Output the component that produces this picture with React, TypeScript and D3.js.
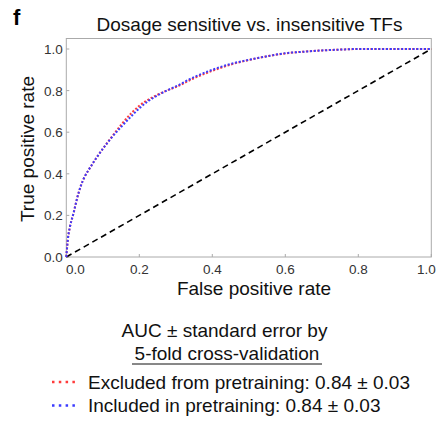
import React from "react";
import * as d3 from "d3";

const fpr = [0, 0.005, 0.01, 0.02, 0.03, 0.04, 0.05, 0.06, 0.08, 0.1, 0.12, 0.15, 0.18, 0.2, 0.225, 0.25, 0.275, 0.3, 0.35, 0.4, 0.45, 0.5, 0.55, 0.6, 0.65, 0.7, 0.75, 0.8, 0.9, 1.0];
const tprExcluded = [0, 0.096, 0.145, 0.212, 0.285, 0.343, 0.385, 0.415, 0.47, 0.52, 0.567, 0.635, 0.695, 0.727, 0.757, 0.78, 0.8, 0.817, 0.86, 0.895, 0.925, 0.947, 0.965, 0.979, 0.987, 0.993, 0.997, 1.0, 1.0, 1.0];
const tprIncluded = [0, 0.096, 0.145, 0.212, 0.285, 0.343, 0.385, 0.415, 0.47, 0.52, 0.565, 0.625, 0.68, 0.715, 0.75, 0.777, 0.8, 0.82, 0.865, 0.9, 0.928, 0.948, 0.965, 0.98, 0.987, 0.993, 0.997, 1.0, 1.0, 1.0];
const tickValues = [0, 0.2, 0.4, 0.6, 0.8, 1.0];
const seriesNames = ["Excluded from pretraining: 0.84 \u00b1 0.03", "Included in pretraining: 0.84 \u00b1 0.03"];
const seriesColors = ["#ff3b3b", "#3b3bff"];

const W = 440, H = 423;
const X0 = 66.3, X1 = 431.3, Y0 = 257, Y1 = 49;
const FONT = "'Liberation Sans', Arial, Helvetica, sans-serif";
const FS = 19;

export default function App() {
  const x = d3.scaleLinear().domain([0, 1]).range([X0, X1]);
  const y = d3.scaleLinear().domain([0, 1]).range([Y0, Y1]);
  const line = d3.line<number>().x((_, i) => x(fpr[i])).y((d) => y(d)).curve(d3.curveMonotoneX);
  const series = [tprExcluded, tprIncluded];
  const fmt = d3.format(".1f");
  return (
    <svg width={W} height={H} style={{ position: "absolute", left: 0, top: 0, background: "#fff" }} fontFamily={FONT}>
      <text x={13} y={25} fontSize={22} fontWeight="bold" fill="#000">f</text>
      <text x={249.5} y={31} fontSize={FS} textAnchor="middle" fill="#111">Dosage sensitive vs. insensitive TFs</text>
      <rect x={X0} y={38.5} width={X1 - X0} height={Y0 - 38.5} fill="none" stroke="#aaa" strokeWidth={1} />
      {tickValues.map((t) => (
        <g key={"x" + t}>
          <line x1={x(t)} x2={x(t)} y1={Y0} y2={Y0 - 3} stroke="#aaa" />
          <text x={t === 0 ? x(t) + 9 : t === 1 ? x(t) - 5 : x(t)} y={Y0 + 17} fontSize={13.5} textAnchor="middle" fill="#333">{fmt(t)}</text>
          <line x1={X0} x2={X0 + 3} y1={y(t)} y2={y(t)} stroke="#aaa" />
          <text x={X0 - 3.5} y={y(t) + 5} fontSize={13.5} textAnchor="end" fill="#333">{fmt(t)}</text>
        </g>
      ))}
      <text x={254} y={295} fontSize={FS} textAnchor="middle" fill="#111">False positive rate</text>
      <text transform={`translate(34,149) rotate(-90)`} fontSize={FS} textAnchor="middle" fill="#111">True positive rate</text>
      <line x1={x(0)} y1={y(0)} x2={x(1)} y2={y(1)} stroke="#000" strokeWidth={1.6} strokeDasharray="6 4" />
      {series.map((s, i) => (
        <path key={i} d={line(s) || ""} fill="none" stroke={seriesColors[i]} strokeWidth={2} strokeDasharray="2 1.8" />
      ))}
      <text x={224.5} y={337} fontSize={FS} textAnchor="middle" fill="#111">AUC ± standard error by</text>
      <text x={227} y={360} fontSize={FS} textAnchor="middle" fill="#111">5-fold cross-validation</text>
      <line x1={132} x2={322} y1={364} y2={364} stroke="#111" strokeWidth={1} />
      {seriesNames.map((n, i) => (
        <g key={n}>
          <line x1={52} x2={76} y1={382 + i * 23.5} y2={382 + i * 23.5} stroke={seriesColors[i]} strokeWidth={2.5} strokeDasharray="2.5 4.3" />
          <text x={88} y={388.5 + i * 23.5} fontSize={FS} fill="#111">{n}</text>
        </g>
      ))}
    </svg>
  );
}
